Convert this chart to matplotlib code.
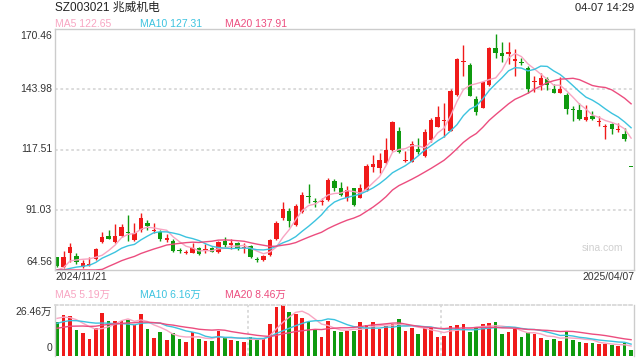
import numpy as np
import matplotlib
matplotlib.use('Agg')
import matplotlib.pyplot as plt
from matplotlib import transforms

# ---------------- data ----------------
opens = [70.14, 66.01, 72.16, 70.93, 65.75, 66.76, 69.26, 76.87, 79.50, 76.87,
         79.50, 81.39, 77.74, 82.14, 85.08, 81.83, 81.39, 77.96, 77.30, 73.35,
         72.16, 72.16, 74.10, 73.13, 74.10, 72.34, 77.44, 75.55, 76.56, 74.10,
         75.11, 69.26, 68.96, 71.15, 78.18, 87.28, 90.49, 84.33, 90.18, 97.21,
         95.01, 94.57, 95.32, 103.67, 100.46, 96.07, 100.46, 96.33, 99.71, 109.95,
         109.25, 111.45, 117.29, 125.64, 112.46, 112.15, 117.86, 114.65, 121.68, 127.53,
         130.16, 125.77, 141.46, 155.82, 154.64, 139.57, 135.88, 145.85, 161.98, 160.04,
         159.34, 156.40, 156.09, 153.19, 147.04, 145.85, 148.49, 144.09, 142.47, 141.46,
         135.17, 134.87, 130.47, 132.23, 129.59, 127.40, 128.71, 125.95, 124.32, 109.80]
highs = [70.49, 73.04, 76.56, 71.90, 68.96, 70.27, 74.23, 81.39, 82.14, 84.64,
         84.77, 88.86, 85.08, 89.48, 86.53, 85.35, 82.14, 80.38, 78.18, 74.23,
         73.35, 76.56, 74.67, 75.86, 74.45, 77.30, 78.93, 78.05, 77.08, 76.29,
         75.55, 70.41, 71.15, 78.18, 86.23, 94.57, 91.67, 93.56, 98.97, 102.22,
         96.33, 96.07, 104.86, 104.55, 103.10, 101.47, 100.59, 102.35, 111.01, 115.09,
         116.10, 122.69, 130.16, 127.26, 116.85, 121.24, 122.43, 126.39, 131.57, 136.62,
         137.81, 143.96, 157.85, 163.43, 155.39, 141.02, 147.61, 162.42, 168.26, 164.61,
         164.61, 161.67, 157.85, 154.20, 149.81, 150.99, 149.50, 146.29, 149.24, 142.47,
         136.62, 137.81, 137.06, 134.43, 132.23, 128.58, 129.02, 129.02, 126.83, 109.80]
lows = [65.66, 65.44, 68.21, 67.20, 65.44, 66.32, 68.96, 76.43, 78.05, 76.43,
        79.06, 77.44, 77.30, 81.39, 82.14, 80.69, 77.30, 76.87, 72.47, 71.90,
        71.59, 72.03, 71.37, 72.16, 72.34, 72.03, 74.80, 73.79, 73.35, 72.16,
        70.05, 67.95, 68.52, 70.71, 77.74, 86.53, 83.33, 83.90, 89.48, 94.13,
        92.38, 93.12, 94.88, 99.28, 97.08, 94.88, 92.90, 95.98, 99.28, 107.76,
        107.32, 111.14, 116.85, 116.19, 111.80, 112.02, 115.53, 114.21, 120.80, 127.26,
        123.13, 125.42, 141.02, 149.81, 141.02, 132.67, 135.74, 145.41, 157.58, 156.09,
        154.95, 149.81, 154.64, 142.47, 142.91, 143.65, 143.65, 142.20, 142.20, 132.98,
        130.16, 130.47, 130.16, 130.47, 127.84, 121.99, 124.19, 125.33, 121.38, 109.80]
closes = [66.32, 70.14, 74.53, 67.86, 67.50, 67.20, 73.79, 78.93, 78.18, 79.50,
          83.59, 80.95, 80.69, 87.54, 83.90, 82.27, 78.05, 78.40, 73.04, 73.04,
          72.47, 74.36, 71.81, 73.79, 72.60, 76.87, 75.42, 76.56, 73.79, 74.53,
          70.41, 68.96, 70.85, 77.74, 85.35, 91.36, 86.23, 92.82, 97.52, 96.51,
          94.57, 95.01, 104.11, 100.72, 97.52, 99.71, 93.12, 100.46, 110.26, 111.14,
          112.90, 117.29, 129.72, 116.54, 112.90, 119.80, 116.54, 125.33, 130.47, 131.66,
          130.47, 143.21, 157.28, 156.40, 141.15, 134.12, 147.30, 162.24, 160.04, 158.59,
          160.48, 157.14, 155.39, 144.09, 147.61, 148.79, 145.85, 142.47, 144.09, 135.17,
          134.73, 130.78, 131.66, 130.78, 130.16, 127.84, 126.52, 126.39, 122.00, 109.80]
# volumes in 万 (10k shares)
volumes = [17.6, 21.3, 20.8, 13.5, 11.9, 9.0, 14.4, 22.5, 18.2, 18.3,
           18.3, 18.9, 16.3, 21.9, 14.2, 9.5, 12.5, 8.5, 11.8, 9.0,
           7.5, 12.6, 9.0, 8.0, 8.0, 13.0, 9.5, 8.5, 8.0, 7.5,
           10.0, 9.0, 9.5, 16.8, 25.4, 26.46, 22.8, 21.8, 19.7, 17.6,
           13.7, 10.0, 18.2, 13.0, 12.5, 13.0, 13.0, 17.6, 16.1, 17.6,
           13.9, 15.6, 16.6, 19.2, 13.0, 14.4, 11.4, 14.4, 14.5, 10.0,
           10.5, 15.6, 16.1, 16.6, 12.5, 14.7, 16.6, 17.1, 17.6, 11.4,
           12.5, 14.1, 10.0, 12.3, 11.4, 9.5, 8.5, 8.8, 8.0, 12.5,
           8.5, 7.5, 6.5, 7.0, 6.15, 6.0, 5.5, 5.0, 6.5, 2.95]
# sessions before the window (implied by where the MA lines start)
prior_closes = [46, 47, 46.5, 48, 47.5, 49, 50, 52, 55, 58,
                61, 63, 62, 64, 63, 61, 60, 65.5, 66]
prior_volumes = [10, 11, 12, 11, 13, 12, 12, 11, 13, 13,
                 13, 15, 14, 16, 14, 18, 22, 19, 21]

price_ticks = [64.56, 91.03, 117.51, 143.98, 170.46]
vol_max = 26.46
date_labels = ['2024/11/21', '2025/04/07']
title_text = 'SZ003021 兆威机电'
time_text = '04-07 14:29'
price_ma_text = ['MA5 122.65', 'MA10 127.31', 'MA20 137.91']
vol_ma_text = ['MA5 5.19万', 'MA10 6.16万', 'MA20 8.46万']

# ---------------- style ----------------
RED = '#f01a1a'
GREEN = '#0f9a0f'
MA_COLORS = ['#f8a5c2', '#3cc3df', '#ec4d7f']
GRID = '#d9d9d9'
SPINE = '#cccccc'
TXT = '#333333'
FONT = ['Liberation Sans', 'Noto Sans CJK SC', 'DejaVu Sans']
plt.rcParams['font.family'] = FONT

W, H = 640, 360
fig = plt.figure(figsize=(W / 100, H / 100), dpi=100)


def rect(l, t, r, b):
    return [l / W, 1 - b / H, (r - l) / W, (b - t) / H]


ax = fig.add_axes(rect(55, 29, 634, 270))
axv = fig.add_axes(rect(55, 305, 634, 356))

n = len(closes)
x = np.arange(n)
XL = (-0.32, n - 0.55)


def moving_avg(prior, vals, k):
    full = np.array(list(prior) + list(vals), dtype=float)
    out = np.convolve(full, np.ones(k) / k, mode='valid')
    return out[-len(vals):]


def up_day(i):
    if closes[i] != opens[i]:
        return closes[i] > opens[i]
    prev = closes[i - 1] if i > 0 else prior_closes[-1]
    return closes[i] >= prev


# ---------------- candles ----------------
lo, hi = price_ticks[0], price_ticks[-1]
for i in range(n):
    o, h, l, c = opens[i], highs[i], lows[i], closes[i]
    col = RED if up_day(i) else GREEN
    ax.vlines(i, l, h, color=col, lw=1.0, zorder=2)
    bot = min(o, c)
    ht = max(abs(c - o), 0.45)
    ax.bar(i, ht, width=0.68, bottom=bot, color=col, linewidth=0, zorder=2)

for k, colr in zip([5, 10, 20], MA_COLORS):
    ma = np.clip(moving_avg(prior_closes, closes, k), lo, hi)
    ax.plot(x, ma, color=colr, lw=1.0, zorder=3)

ax.set_xlim(*XL)
ax.set_ylim(lo, hi)
ax.set_xticks([])
ax.set_yticks([])
for v in price_ticks[1:-1]:
    ax.axhline(v, color=GRID, lw=1.3, ls=(0, (1.5, 1.5)), zorder=0)
for s in ax.spines.values():
    s.set_color(SPINE)
    s.set_linewidth(1.0)

# price tick labels
bt = transforms.blended_transform_factory(ax.transAxes, ax.transData)
for v in price_ticks:
    if v == hi:
        tr = transforms.offset_copy(bt, fig=fig, x=-3, y=-2, units='dots')
        va = 'top'
    elif v == lo:
        tr = transforms.offset_copy(bt, fig=fig, x=-3, y=3, units='dots')
        va = 'bottom'
    else:
        tr = transforms.offset_copy(bt, fig=fig, x=-3, y=0, units='dots')
        va = 'center'
    ax.text(0, v, f'{v:.2f}', transform=tr, ha='right', va=va,
            fontsize=7.5, color=TXT)

# watermark
ax.text(0.982, 0.09, 'sina.com', transform=ax.transAxes, ha='right',
        va='center', fontsize=7.5, color='#d0d0d0')

# ---------------- volume ----------------
for i in range(n):
    col = RED if up_day(i) else GREEN
    axv.bar(i, volumes[i], width=0.56, color=col, linewidth=0, zorder=2)
for k, colr in zip([5, 10, 20], MA_COLORS):
    vm = np.clip(moving_avg(prior_volumes, volumes, k), 0, vol_max)
    axv.plot(x, vm, color=colr, lw=1.0, zorder=3)
axv.set_xlim(*XL)
axv.set_ylim(0, vol_max)
axv.set_xticks([])
axv.set_yticks([])
for fr in (1 / 3, 2 / 3):
    axv.axvline(XL[0] + (XL[1] - XL[0]) * fr, color=GRID, lw=1.3,
                ls=(0, (1.5, 1.5)), zorder=0)
for name, s in axv.spines.items():
    s.set_color(SPINE)
    s.set_linewidth(1.0)
axv.spines['top'].set_linestyle((0, (1.5, 1.5)))
axv.spines['top'].set_linewidth(1.3)
axv.spines['top'].set_color(GRID)
axv.spines['bottom'].set_visible(False)

bv = transforms.blended_transform_factory(axv.transAxes, axv.transData)
axv.text(0, vol_max, f'{vol_max:.2f}万',
         transform=transforms.offset_copy(bv, fig=fig, x=-3, y=-2, units='dots'),
         ha='right', va='top', fontsize=7.5, color=TXT)
axv.text(0, 0, '0',
         transform=transforms.offset_copy(bv, fig=fig, x=-3, y=3, units='dots'),
         ha='right', va='bottom', fontsize=7.5, color=TXT)

# ---------------- header / footer texts ----------------
def ftext(px, py, s, **kw):
    fig.text(px / W, 1 - py / H, s, **kw)


ftext(55, 8, title_text, ha='left', va='center', fontsize=8.5, color='#222222')
ftext(634, 8, time_text, ha='right', va='center', fontsize=8, color='#222222')
for xp, s, colr in zip([55, 140, 225], price_ma_text, MA_COLORS):
    ftext(xp, 24, s, ha='left', va='center', fontsize=7.5, color=colr)
for xp, s, colr in zip([55, 140, 225], vol_ma_text, MA_COLORS):
    ftext(xp, 295, s, ha='left', va='center', fontsize=7.5, color=colr)
ftext(55, 277, date_labels[0], ha='left', va='center', fontsize=7.5, color=TXT)
ftext(634, 277, date_labels[1], ha='right', va='center', fontsize=7.5, color=TXT)

fig.savefig('out.png', dpi=100)
